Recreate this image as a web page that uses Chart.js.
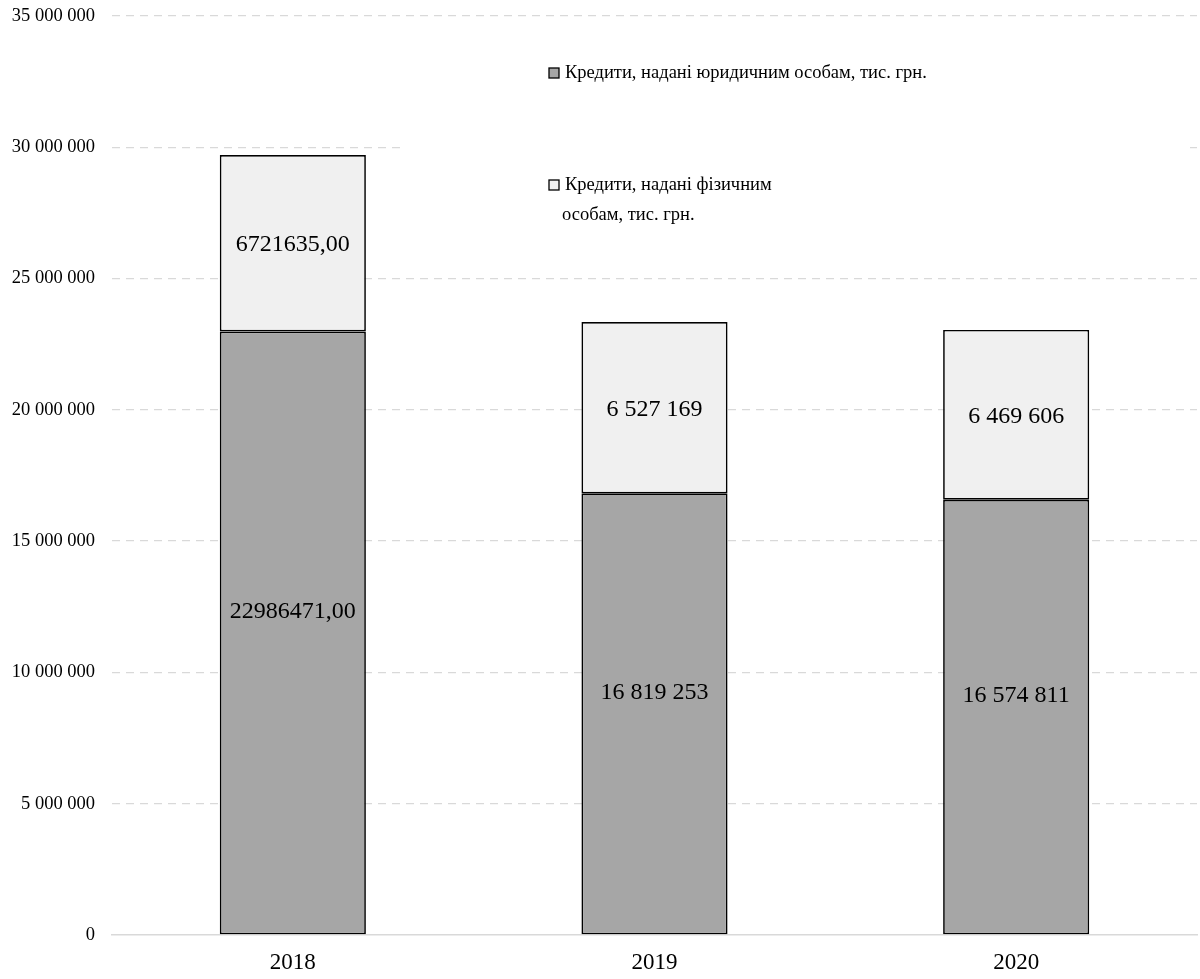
<!DOCTYPE html>
<html>
<head>
<meta charset="utf-8">
<script src="https://cdn.jsdelivr.net/npm/chart.js@4"></script>
<style>
  html, body { margin: 0; padding: 0; background: #fff; }
  #wrap { width: 1200px; height: 979px; }
</style>
</head>
<body>
<div id="wrap"><canvas id="myChart" width="1200" height="979"></canvas></div>
<script>
// Дані з графіка
const roky = ['2018', '2019', '2020'];
const yurOsoby = [22986471, 16819253, 16574811];
const fizOsoby = [6721635, 6527169, 6469606];
// підписи так, як вони стоять на стовпцях
const yurPidpysy = ['22986471,00', '16 819 253', '16 574 811'];
const fizPidpysy = ['6721635,00', '6 527 169', '6 469 606'];
const legendaYur = ['Кредити, надані юридичним особам, тис. грн.'];
const legendaFiz = ['Кредити, надані фізичним', 'особам, тис. грн.'];

const SERIF = '"Liberation Serif", "Times New Roman", serif';

// Легенда всередині області графіка (білий фон ховає сітку)
const legendaPlugin = {
    id: 'legendaVseredyni',
    beforeDatasetsDraw(chart) {
        const ctx = chart.ctx;
        ctx.save();
        ctx.fillStyle = '#ffffff';
        ctx.fillRect(402, 30, 786, 230);

        const punkty = [
            { kolir: '#a6a6a6', ryadky: legendaYur, y: 73 },
            { kolir: '#f0f0f0', ryadky: legendaFiz, y: 185 }
        ];
        ctx.font = '18.5px ' + SERIF;
        ctx.textBaseline = 'middle';
        ctx.textAlign = 'left';
        punkty.forEach(p => {
            ctx.fillStyle = p.kolir;
            ctx.fillRect(549, p.y - 5, 10, 10);
            ctx.strokeStyle = '#000';
            ctx.lineWidth = 1.3;
            ctx.strokeRect(549, p.y - 5, 10, 10);
            ctx.fillStyle = '#000';
            p.ryadky.forEach((t, i) => {
                ctx.fillText(t, i === 0 ? 565 : 562, p.y + i * 30);
            });
        });
        ctx.restore();
    }
};

// Підписи значень у центрі сегментів
const pidpysyPlugin = {
    id: 'pidpysy',
    afterDatasetsDraw(chart) {
        const ctx = chart.ctx;
        ctx.save();
        ctx.font = '24px ' + SERIF;
        ctx.fillStyle = '#000';
        ctx.textAlign = 'center';
        ctx.textBaseline = 'middle';
        chart.data.datasets.forEach((ds, di) => {
            const meta = chart.getDatasetMeta(di);
            meta.data.forEach((el, i) => {
                const sered = (el.y + el.base) / 2 + (di === 0 ? -21 : 2);
                ctx.fillText(ds.pidpysy[i], el.x, sered);
            });
        });
        ctx.restore();
    }
};

const ctx = document.getElementById('myChart').getContext('2d');
new Chart(ctx, {
    type: 'bar',
    data: {
        labels: roky,
        datasets: [
            {
                label: legendaYur.join(' '),
                data: yurOsoby,
                pidpysy: yurPidpysy,
                backgroundColor: '#a6a6a6',
                borderColor: '#000',
                borderWidth: 1.7,
                borderSkipped: false
            },
            {
                label: legendaFiz.join(' '),
                data: fizOsoby,
                pidpysy: fizPidpysy,
                backgroundColor: '#f0f0f0',
                borderColor: '#000',
                borderWidth: 1.7,
                borderSkipped: false
            }
        ]
    },
    options: {
        responsive: false,
        animation: false,
        devicePixelRatio: 1,
        layout: { padding: { top: 16, right: 3, left: 0, bottom: 0 } },
        datasets: { bar: { categoryPercentage: 1, barPercentage: 0.404 } },
        plugins: { legend: { display: false }, tooltip: { enabled: false } },
        scales: {
            x: {
                stacked: true,
                grid: { display: false, drawTicks: false },
                border: { display: true, color: '#d9d9d9', width: 1.5 },
                ticks: { color: '#000', padding: 14, font: { family: SERIF, size: 23 } },
                afterFit: s => { s.height = 44; }
            },
            y: {
                stacked: true,
                min: 0,
                max: 35000000,
                grid: {
                    drawTicks: false,
                    lineWidth: 1.3,
                    color: c => (c.tick && c.tick.value === 0) ? 'rgba(0,0,0,0)' : '#d9d9d9'
                },
                border: { display: false, dash: [8, 6] },
                ticks: {
                    stepSize: 5000000,
                    padding: 17,
                    color: '#000',
                    font: { family: SERIF, size: 18.5 },
                    callback: v => v === 0 ? '0' : String(v).replace(/\B(?=(\d{3})+(?!\d))/g, ' ')
                },
                afterFit: s => { s.width = 112; s.paddingTop = 0; s.paddingBottom = 0; }
            }
        }
    },
    plugins: [legendaPlugin, pidpysyPlugin]
});
</script>
</body>
</html>
